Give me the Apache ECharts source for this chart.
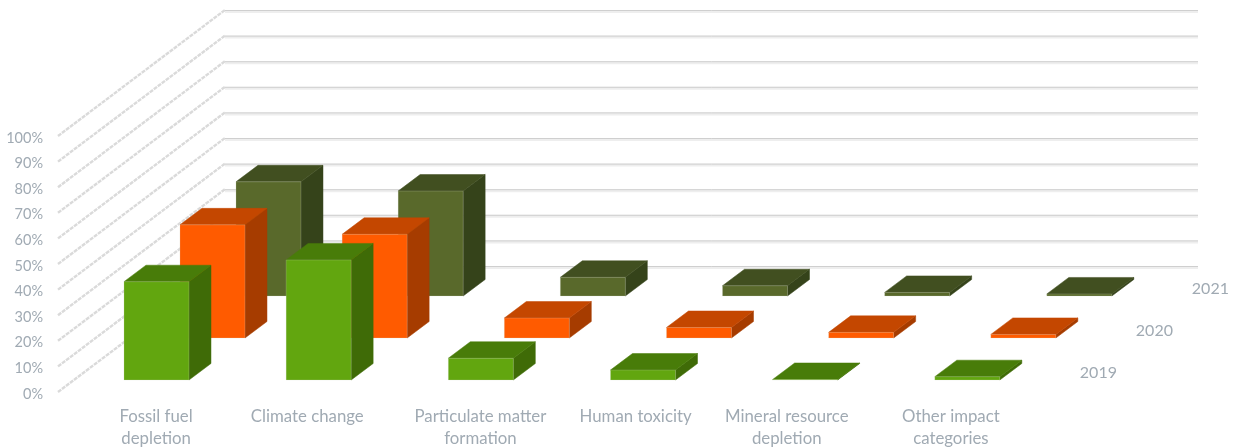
<!DOCTYPE html>
<html>
<head>
<meta charset="utf-8">
<style>html,body{margin:0;padding:0;background:#fff}#chart{width:1234px;height:447px}</style>
<script src="https://cdn.jsdelivr.net/npm/echarts@6/dist/echarts.min.js"></script>
</head>
<body>
<div id="chart"></div>
<script>
// Share of total impact per category and year (percent)
const categories = ['Fossil fuel\ndepletion', 'Climate change', 'Particulate matter\nformation', 'Human toxicity', 'Mineral resource\ndepletion', 'Other impact\ncategories'];
const years = ['2019', '2020', '2021'];
const values2019 = [38.4, 46.9, 8.5, 3.9, 0.2, 1.3];
const values2020 = [44.2, 40.5, 7.8, 4.1, 2.2, 1.4];
const values2021 = [44.6, 41.0, 7.3, 4.0, 1.4, 0.8];
const percentTicks = [0, 10, 20, 30, 40, 50, 60, 70, 80, 90, 100];

// Oblique projection of the depth axis onto the page
const WALL_DX = 167, WALL_DY = 126;
const ROW_DX = 56, ROW_DY = 42;
const ROW_START_DX = 17.4, ROW_START_DY = 12;
const BAR_WIDTH = 65, BAR_DX = 22, BAR_DY = 16.5;
const labelShift = [0, -11, 0, -7, -18, -16];

const palette = [
  { face: '#62a60f', top: '#487c09', side: '#3f6b07' },
  { face: '#ff5b00', top: '#c44700', side: '#a63c00' },
  { face: '#59692b', top: '#414f20', side: '#35431a' }
];
const TEXT_COLOR = '#a0aab3';

function poly(points, fill, stroke) {
  return {
    type: 'polygon',
    shape: { points },
    style: { fill, stroke: stroke || fill, lineWidth: stroke ? 1 : 0.5 }
  };
}

function barRenderer(row) {
  const colors = palette[row];
  const ox = ROW_START_DX + ROW_DX * row;
  const oy = ROW_START_DY + ROW_DY * row;
  return function (params, api) {
    const top = api.coord([api.value(0), api.value(1)]);
    const base = api.coord([api.value(0), 0]);
    const l = top[0] + ox - BAR_WIDTH / 2;
    const r = l + BAR_WIDTH;
    const t = top[1] - oy;
    const b = base[1] - oy;
    return {
      type: 'group',
      children: [
        poly([[r, t], [r + BAR_DX, t - BAR_DY], [r + BAR_DX, b - BAR_DY], [r, b]], colors.side),
        poly([[l, t], [l + BAR_DX, t - BAR_DY], [r + BAR_DX, t - BAR_DY], [r, t]], colors.top),
        poly([[l, t], [r, t], [r, b], [l, b]], colors.face, 'rgba(215,220,205,0.22)')
      ]
    };
  };
}

// Side wall and back wall rules, one pair per percent tick
function wallRenderer(params, api) {
  const y = api.coord([0, api.value(0)])[1];
  const x0 = params.coordSys.x;
  const xBack = x0 + WALL_DX;
  const xEnd = x0 + params.coordSys.width + WALL_DX;
  const yBack = y - WALL_DY;
  return {
    type: 'group',
    children: [
      { type: 'line', shape: { x1: x0, y1: y, x2: xBack, y2: yBack },
        style: { stroke: '#dadada', lineWidth: 2.4, lineDash: [4, 1] } },
      { type: 'line', shape: { x1: xBack, y1: yBack + 1.5, x2: xEnd, y2: yBack + 1.5 },
        style: { stroke: '#eeeeee', lineWidth: 3 } },
      { type: 'line', shape: { x1: xBack, y1: yBack + 0.5, x2: xEnd, y2: yBack + 0.5 },
        style: { stroke: '#cfcfcf', lineWidth: 1 } }
    ]
  };
}

// Year captions along the depth axis
function yearRenderer(params, api) {
  const row = params.dataIndex;
  const base = api.coord([0, 0])[1];
  const right = params.coordSys.x + params.coordSys.width;
  return {
    type: 'text',
    style: {
      x: right + ROW_START_DX + ROW_DX * row + 50,
      y: base - ROW_START_DY - ROW_DY * row - 7,
      text: years[row],
      fill: TEXT_COLOR,
      font: '16px Lato',
      align: 'center',
      verticalAlign: 'middle'
    }
  };
}

function barSeries(values, row) {
  return {
    type: 'custom',
    name: years[row],
    renderItem: barRenderer(row),
    data: values.map((v, i) => [i, v]),
    encode: { x: 0, y: 1 },
    clip: false,
    silent: true,
    z: 5 - row
  };
}

const chart = echarts.init(document.getElementById('chart'), null, { renderer: 'canvas' });
chart.setOption({
  animation: false,
  backgroundColor: '#ffffff',
  grid: { left: 58, top: 136, width: 973, height: 256, outerBoundsMode: 'none' },
  xAxis: {
    type: 'category',
    data: categories.map((c, i) => ({
      value: c,
      textStyle: {
        padding: labelShift[i] + 17 >= 0 ? [0, 0, 0, 2 * (labelShift[i] + 17)] : [0, -2 * (labelShift[i] + 17), 0, 0]
      }
    })),
    axisLine: { show: false },
    axisTick: { show: false },
    splitLine: { show: false },
    axisLabel: {
      interval: 0,
      margin: 13.5,
      color: TEXT_COLOR,
      fontFamily: 'Lato',
      fontSize: 16.8,
      lineHeight: 22
    }
  },
  yAxis: {
    type: 'value',
    min: 0,
    max: 100,
    interval: 10,
    axisLine: { show: false },
    axisTick: { show: false },
    splitLine: { show: false },
    axisLabel: {
      margin: 15,
      formatter: '{tick|{value}%}',
      rich: {
        tick: {
          color: TEXT_COLOR,
          fontFamily: 'Lato',
          fontSize: 14.5,
          padding: [4, 0, 0, 0]
        }
      }
    }
  },
  series: [
    {
      type: 'custom',
      name: 'walls',
      renderItem: wallRenderer,
      data: percentTicks.map(v => [v]),
      encode: { y: 0 },
      clip: false,
      silent: true,
      z: 1
    },
    barSeries(values2021, 2),
    barSeries(values2020, 1),
    barSeries(values2019, 0),
    {
      type: 'custom',
      name: 'years',
      renderItem: yearRenderer,
      data: years.map((y, i) => [i]),
      encode: { x: 0 },
      clip: false,
      silent: true,
      z: 6
    }
  ]
});
</script>
</body>
</html>
